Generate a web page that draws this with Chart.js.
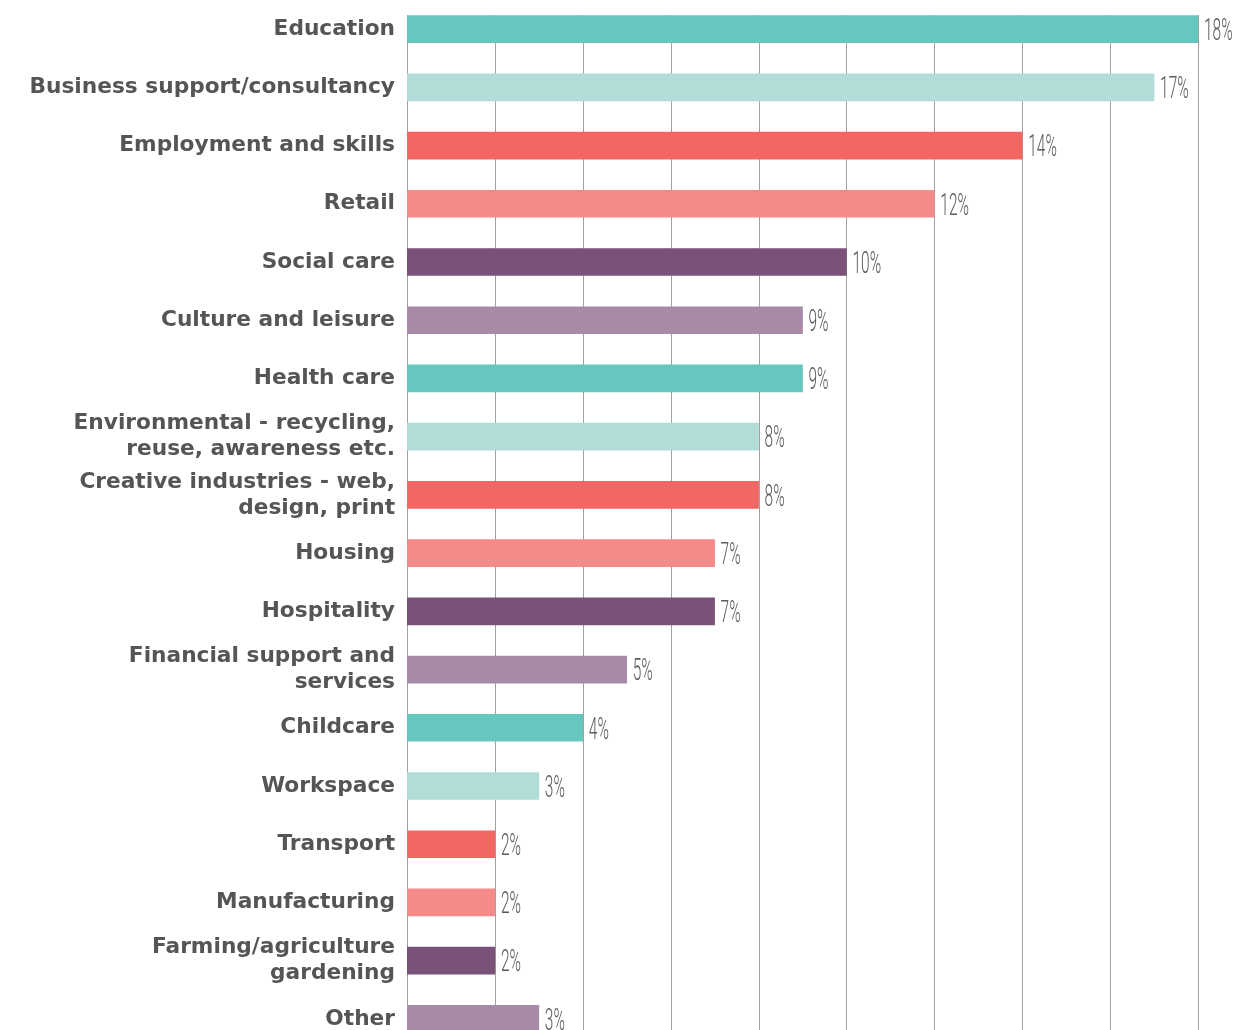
<!DOCTYPE html>
<html>
<head>
<meta charset="utf-8">
<script src="https://cdn.jsdelivr.net/npm/chart.js@4/dist/chart.umd.min.js"></script>
<style>
html,body{margin:0;padding:0;background:#fff;overflow:hidden;}
#wrap{width:1236px;height:1048px;position:relative;}
</style>
</head>
<body>
<div id="wrap"><canvas id="c"></canvas></div>
<script>
const categories = [
  "Education",
  "Business support/consultancy",
  "Employment and skills",
  "Retail",
  "Social care",
  "Culture and leisure",
  "Health care",
  ["Environmental - recycling,", "reuse, awareness etc."],
  ["Creative industries - web,", "design, print"],
  "Housing",
  "Hospitality",
  ["Financial support and", "services"],
  "Childcare",
  "Workspace",
  "Transport",
  "Manufacturing",
  ["Farming/agriculture", "gardening"],
  "Other"
];
const values = [18, 17, 14, 12, 10, 9, 9, 8, 8, 7, 7, 5, 4, 3, 2, 2, 2, 3];
const palette = ["#67c7bf", "#b2dcd8", "#f26764", "#f58a88", "#7a5279", "#a68aa6"];
const gridTicks = [0, 2, 4, 6, 8, 10, 12, 14, 16, 18];

const barColors = values.map((v, i) => palette[i % palette.length]);

const gridPlugin = {
  id: 'customGrid',
  beforeDatasetsDraw(chart) {
    const ctx = chart.ctx, x = chart.scales.x, area = chart.chartArea;
    ctx.save();
    ctx.strokeStyle = '#a0a0a0';
    ctx.lineWidth = 1;
    gridTicks.forEach(t => {
      const px = Math.round(x.getPixelForValue(t)) + 0.5;
      ctx.beginPath();
      ctx.moveTo(px, area.top + 15);
      ctx.lineTo(px, area.bottom);
      ctx.stroke();
    });
    ctx.restore();
  }
};

const valuePlugin = {
  id: 'valueLabels',
  afterDatasetsDraw(chart) {
    const ctx = chart.ctx;
    const meta = chart.getDatasetMeta(0);
    const sx = 0.5;
    ctx.save();
    ctx.fillStyle = '#5a5a5a';
    ctx.font = '300 31px Roboto, "DejaVu Sans", sans-serif';
    ctx.textAlign = 'left';
    ctx.textBaseline = 'middle';
    meta.data.forEach((el, i) => {
      ctx.save();
      ctx.translate(el.x + 6, el.y + 3);
      ctx.scale(sx, 1);
      ctx.fillText(values[i] + '%', 0, 0);
      ctx.restore();
    });
    ctx.restore();
  }
};

new Chart(document.getElementById('c'), {
  type: 'bar',
  data: {
    labels: categories,
    datasets: [{
      data: values,
      backgroundColor: barColors,
      borderWidth: 0,
      barThickness: 27
    }]
  },
  options: {
    indexAxis: 'y',
    responsive: true,
    maintainAspectRatio: false,
    animation: false,
    layout: { padding: { top: 0, right: 38, bottom: 0, left: 0 } },
    plugins: { legend: { display: false }, tooltip: { enabled: false } },
    scales: {
      x: {
        min: 0, max: 18,
        display: false,
        grid: { display: false }
      },
      y: {
        grid: { display: false, drawTicks: false },
        border: { display: false },
        afterFit(scale) {
          scale.width = 407;
          scale.paddingTop = 0;
          scale.paddingBottom = 0;
        },
        ticks: {
          padding: 12,
          color: '#555',
          font: { family: '"DejaVu Sans", sans-serif', weight: 'bold', size: 21.7, lineHeight: 1.2 }
        }
      }
    }
  },
  plugins: [gridPlugin, valuePlugin]
});
</script>
</body>
</html>
